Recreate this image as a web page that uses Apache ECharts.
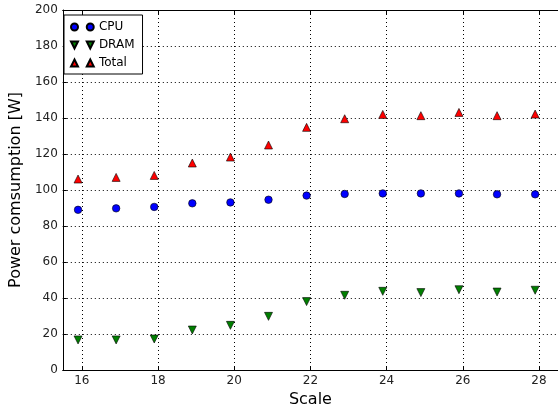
<!DOCTYPE html>
<html>
<head>
<meta charset="utf-8">
<script src="https://cdn.jsdelivr.net/npm/echarts@6/dist/echarts.min.js"></script>
<style>
  html, body { margin: 0; padding: 0; background: #fff; }
  #chart { width: 558px; height: 413px; }
</style>
</head>
<body>
<div id="chart"></div>
<script>
let scale = [15.9, 16.9, 17.9, 18.9, 19.9, 20.9, 21.9, 22.9, 23.9, 24.9, 25.9, 26.9, 27.9]
let cpu = [89, 89.8, 90.6, 92.6, 93.1, 94.6, 96.9, 97.8, 98.1, 98.1, 98.1, 97.6, 97.6]
let dram = [16.7, 16.7, 17.2, 22.2, 24.8, 29.8, 38, 41.5, 43.7, 43, 44.6, 43.3, 44.3]
let total = [106.1, 107, 108.1, 115, 118.3, 125, 134.8, 139.6, 142, 141.3, 143.1, 141.3, 142.2]
let xTicks = [16, 18, 20, 22, 24, 26, 28]

function pairs(xs, ys) {
  return xs.map((x, i) => [x, ys[i]])
}

let font = 'DejaVu Sans'
let gridLine = {show: true, lineStyle: {color: '#000', type: [1, 3], width: 1}}

let myChart = echarts.init(document.getElementById('chart'))
myChart.setOption({
  animation: false,
  textStyle: {fontFamily: font},
  grid: {left: 58, right: -3, top: 10, bottom: 43},
  legend: {
    left: 64,
    top: 15,
    orient: 'vertical',
    itemGap: 6,
    itemWidth: 23,
    itemHeight: 7,
    padding: [6, 8, 5, 6],
    backgroundColor: '#fff',
    borderColor: '#000',
    borderWidth: 1,
    borderRadius: 0,
    textStyle: {fontFamily: font, fontSize: 12, color: '#000'},
    data: [
      {name: 'CPU', icon: 'path://M4,0A4,4 0 1,1 4,8A4,4 0 1,1 4,0Z M22,0A4,4 0 1,1 22,8A4,4 0 1,1 22,0Z'},
      {name: 'DRAM', icon: 'path://M0,0L8,0L4,8Z M18,0L26,0L22,8Z'},
      {name: 'Total', icon: 'path://M4,0L8,8L0,8Z M22,0L26,8L18,8Z'}
    ]
  },
  xAxis: [{
    type: 'value',
    min: 15.5,
    max: 28.5,
    interval: 2,
    name: 'Scale',
    nameLocation: 'middle',
    nameGap: 22,
    nameTextStyle: {fontFamily: font, fontSize: 16, color: '#000'},
    axisLine: {show: true, lineStyle: {color: '#000', width: 1}},
    axisTick: {show: true, inside: true, length: 4, lineStyle: {color: '#000'}, customValues: xTicks},
    axisLabel: {fontFamily: font, fontSize: 12, color: '#222', margin: 5, customValues: xTicks},
    splitLine: gridLine
  }, {
    type: 'value',
    position: 'top',
    min: 15.5,
    max: 28.5,
    axisLine: {show: true, onZero: false, lineStyle: {color: '#000', width: 1}},
    axisTick: {show: true, inside: true, length: 4, lineStyle: {color: '#000'}, customValues: xTicks},
    axisLabel: {show: false},
    splitLine: {show: false}
  }],
  yAxis: {
    type: 'value',
    min: 0,
    max: 200,
    interval: 20,
    name: 'Power comsumption [W]',
    nameLocation: 'middle',
    nameGap: 34,
    nameTextStyle: {fontFamily: font, fontSize: 16, color: '#000'},
    axisLine: {show: true, lineStyle: {color: '#000', width: 1}},
    axisTick: {show: true, inside: true, length: 4, lineStyle: {color: '#000'}},
    axisLabel: {fontFamily: font, fontSize: 12, color: '#222', margin: 5},
    splitLine: gridLine
  },
  series: [{
    name: 'CPU',
    type: 'scatter',
    symbol: 'circle',
    symbolSize: 7.5,
    itemStyle: {color: '#0000ff', borderColor: '#000', borderWidth: 0.6, opacity: 1},
    data: pairs(scale, cpu)
  }, {
    name: 'DRAM',
    type: 'scatter',
    symbol: 'triangle',
    symbolRotate: 180,
    symbolSize: 8,
    itemStyle: {color: '#007f00', borderColor: '#000', borderWidth: 0.6, opacity: 1},
    data: pairs(scale, dram)
  }, {
    name: 'Total',
    type: 'scatter',
    symbol: 'triangle',
    symbolSize: 8,
    itemStyle: {color: '#ff0000', borderColor: '#000', borderWidth: 0.6, opacity: 1},
    data: pairs(scale, total)
  }]
})
</script>
</body>
</html>
